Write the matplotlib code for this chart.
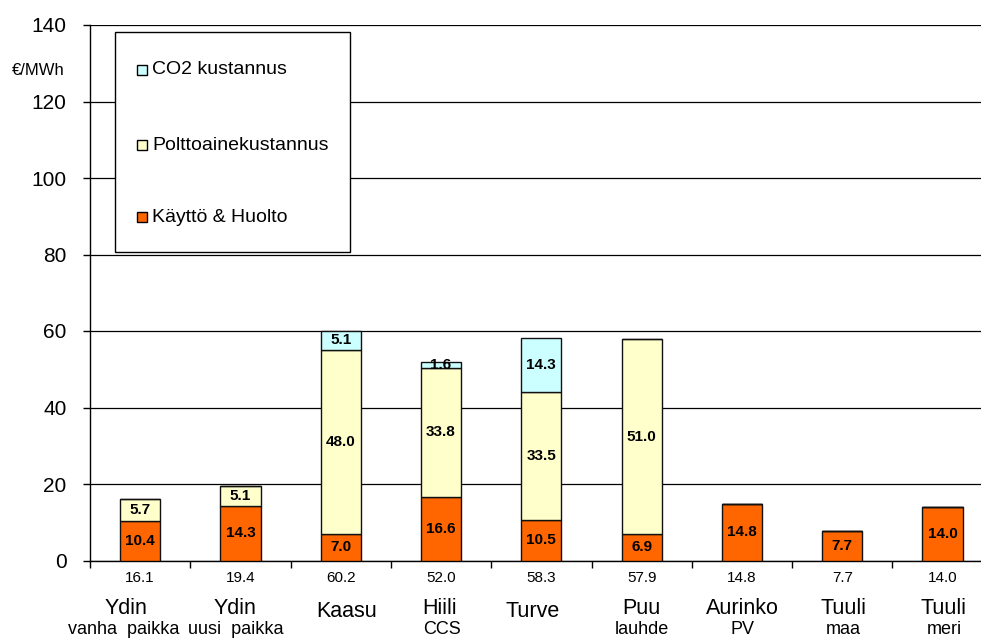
import numpy as np
import matplotlib.pyplot as plt
from matplotlib.patches import Rectangle

plt.rcParams['font.family'] = ['Liberation Sans', 'DejaVu Sans']

# data
names = ["Ydin", "Ydin", "Kaasu", "Hiili", "Turve", "Puu", "Aurinko", "Tuuli", "Tuuli"]
subnames = ["vanha  paikka", "uusi  paikka", "", "CCS", "", "lauhde", "PV", "maa", "meri"]
kaytto = [10.4, 14.3, 7.0, 16.6, 10.5, 6.9, 14.8, 7.7, 14.0]
polttoaine = [5.7, 5.1, 48.0, 33.8, 33.5, 51.0, 0, 0, 0]
co2 = [0, 0, 5.1, 1.6, 14.3, 0, 0, 0, 0]
totals = ["16.1", "19.4", "60.2", "52.0", "58.3", "57.9", "14.8", "7.7", "14.0"]
legend_labels = ["CO2 kustannus", "Polttoainekustannus", "Käyttö & Huolto"]

c_kh = "#FF6600"
c_pa = "#FFFFCC"
c_co2 = "#CCFFFF"

# small horizontal nudges (pixels) of the category labels, as in the original
name_dx = [-14.5, -5, 6, -1, -9, 0, 0, 1, 1]
sub_dx = [-16, -4.5, 0, 1, 0, 0, 1, 1, 2]

fig = plt.figure(figsize=(9.81, 6.39), dpi=100)
ax = fig.add_axes([90/981, (639-560.5)/639, 1 - 90/981, 535.5/639])

x = np.arange(len(names))
kaytto = np.array(kaytto)
polttoaine = np.array(polttoaine)
co2 = np.array(co2)

w = 0.4
ax.bar(x, kaytto, w, color=c_kh, edgecolor="#111111", linewidth=1, zorder=3)
ax.bar(x, polttoaine, w, bottom=kaytto, color=c_pa, edgecolor="#111111", linewidth=1, zorder=3)
ax.bar(x, co2, w, bottom=kaytto + polttoaine, color=c_co2, edgecolor="#111111", linewidth=1, zorder=3)

# segment labels
for i in x:
    ax.text(i, kaytto[i] / 2, "%.1f" % kaytto[i], ha="center", va="center",
            fontsize=11, fontweight="bold", zorder=4)
    if polttoaine[i] > 0:
        ax.text(i, kaytto[i] + polttoaine[i] / 2, "%.1f" % polttoaine[i], ha="center",
                va="center", fontsize=11, fontweight="bold", zorder=4)
    if co2[i] > 0:
        ax.text(i, kaytto[i] + polttoaine[i] + co2[i] / 2, "%.1f" % co2[i], ha="center",
                va="center", fontsize=11, fontweight="bold", zorder=4)

# labels below the axis
for i in x:
    ax.annotate(totals[i], xy=(i, 0), xycoords=("data", "axes fraction"), xytext=(0, -17.5),
                textcoords="offset pixels", ha="center", va="center", fontsize=11)
    if subnames[i]:
        ax.annotate(names[i], xy=(i, 0), xycoords=("data", "axes fraction"),
                    xytext=(name_dx[i], -48), textcoords="offset pixels",
                    ha="center", va="center", fontsize=15.5)
        ax.annotate(subnames[i], xy=(i, 0), xycoords=("data", "axes fraction"),
                    xytext=(sub_dx[i], -69), textcoords="offset pixels",
                    ha="center", va="center", fontsize=13)
    else:
        ax.annotate(names[i], xy=(i, 0), xycoords=("data", "axes fraction"),
                    xytext=(name_dx[i], -51), textcoords="offset pixels",
                    ha="center", va="center", fontsize=15.5)

ax.set_ylim(0, 140)
ax.set_xlim(-0.5, (981 - 90) / 100.3 - 0.5)
ax.set_yticks(np.arange(0, 141, 20))
ax.tick_params(axis="y", labelsize=15, length=5, pad=12, width=1)
ax.set_xticks(np.arange(len(names)) - 0.5)
ax.set_xticklabels([])
ax.tick_params(axis="x", length=5, width=1)
ax.yaxis.grid(True, color="black", linewidth=0.9)
ax.set_axisbelow(True)
for s in ["top", "right"]:
    ax.spines[s].set_visible(False)
ax.spines["left"].set_linewidth(1)
ax.spines["bottom"].set_linewidth(1)

ax.text(-0.75, 128.2, "€/MWh", ha="right", va="center", fontsize=12, clip_on=False)

# legend box, drawn by hand to match the original spacing
def px(xp, yp):
    return (xp - 90) / 891, (560.5 - yp) / 535.5

x0, y0 = px(115, 252)
x1, y1 = px(350, 32)
ax.add_patch(Rectangle((x0, y0), x1 - x0, y1 - y0, transform=ax.transAxes,
                       facecolor="white", edgecolor="black", linewidth=1, zorder=5))
for lab, col, yp in zip(legend_labels, [c_co2, c_pa, c_kh], [70, 145, 217]):
    sx0, sy0 = px(137, yp + 5)
    sx1, sy1 = px(147, yp - 5)
    ax.add_patch(Rectangle((sx0, sy0), sx1 - sx0, sy1 - sy0, transform=ax.transAxes,
                           facecolor=col, edgecolor="black", linewidth=1, zorder=6))
    tx, ty = px(152, yp)
    ax.text(tx, ty, lab, transform=ax.transAxes, ha="left", va="center",
            fontsize=14, zorder=6)

fig.savefig("out.png", dpi=100)
